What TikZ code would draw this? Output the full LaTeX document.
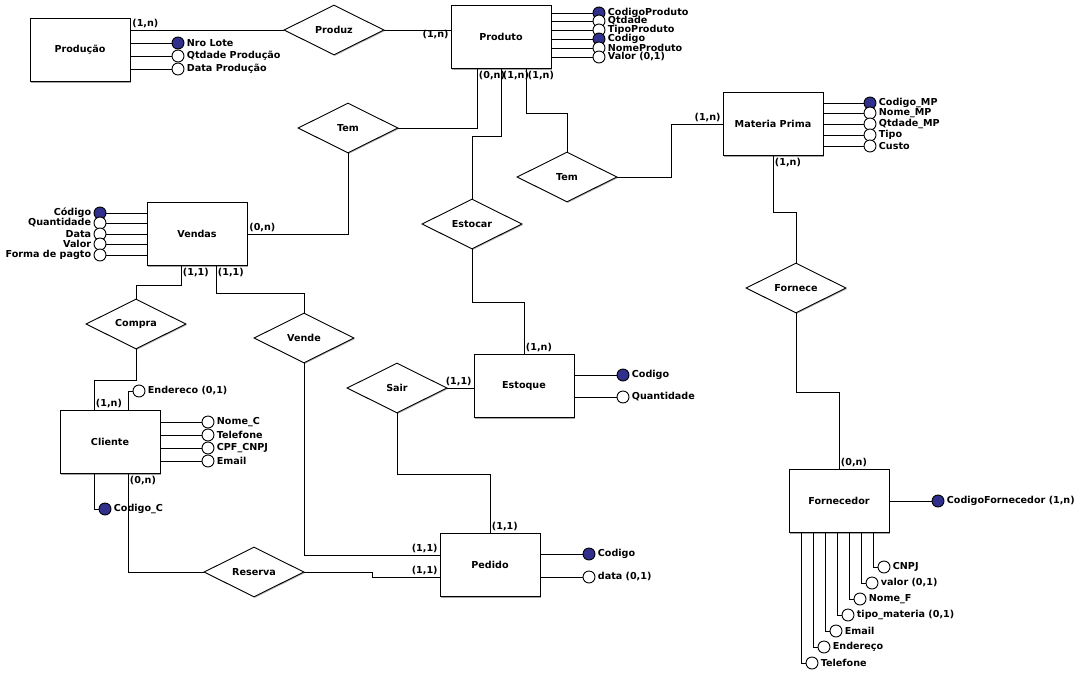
\documentclass[tikz,border=0pt]{standalone}
\usepackage{fontspec}
\setmainfont{DejaVu Sans}
\usepackage{tikz}
\usetikzlibrary{shapes.geometric,shadows}
\definecolor{keyblue}{RGB}{48,48,140}

\tikzset{
  entity/.style={draw, fill=white, minimum width=100pt, minimum height=63pt,
    drop shadow={shadow xshift=1.3pt, shadow yshift=-1.3pt, fill=black!35, opacity=1}},
  relation/.style={diamond, draw, fill=white, aspect=2, inner sep=0pt,
    minimum width=100pt, minimum height=50pt,
    drop shadow={shadow xshift=1pt, shadow yshift=-1pt, fill=black!30, opacity=1}},
  attr/.style={circle, draw, fill=white, minimum size=12pt, inner sep=0pt},
  attrtext/.style={inner sep=2pt},
  card/.style={inner sep=1.5pt},
}

\begin{document}
\begin{tikzpicture}[x=1pt, y=-1pt, line width=0.9pt,
  every node/.style={font=\fontsize{9.6}{10}\selectfont\bfseries}]
  \useasboundingbox (0,0) rectangle (1090,678);

  % Entities
  \node[entity] (producao)   at (80,50)   {Produção};
  \node[entity] (produto)    at (501,37)  {Produto};
  \node[entity] (materia)    at (773,124) {Materia Prima};
  \node[entity] (vendas)     at (197,234) {Vendas};
  \node[entity] (cliente)    at (110,442) {Cliente};
  \node[entity] (estoque)    at (524,386) {Estoque};
  \node[entity] (pedido)     at (490,565) {Pedido};
  \node[entity] (fornecedor) at (839,501) {Fornecedor};

  % Relationships
  \node[relation] (produz)  at (334,30)  {Produz};
  \node[relation] (temA)    at (348,128) {Tem};
  \node[relation] (temB)    at (567,177) {Tem};
  \node[relation] (estocar) at (472,224) {Estocar};
  \node[relation] (compra)  at (136,324) {Compra};
  \node[relation] (vende)   at (304,338) {Vende};
  \node[relation] (sair)    at (397,388) {Sair};
  \node[relation] (reserva) at (254,572) {Reserva};
  \node[relation] (fornece) at (796,288) {Fornece};

  % Connectors with cardinalities
  \draw (produz.west) -- (produz.west -| producao.east) node[card, anchor=south west] {(1,n)};
  \draw (produz.east) -- (produz.east -| produto.west) node[card, anchor=north east, yshift=2pt] {(1,n)};
  \draw (temA.south) |- (vendas.east) node[card, anchor=south west] {(0,n)};
  \draw (temA.east) -| ([xshift=-24pt]produto.south) node[card, anchor=north west] {(0,n)};
  \draw (estocar.north) |- ([yshift=-67pt]produto.south) -- (produto.south) node[card, anchor=north west] {(1,n)};
  \draw (temB.north) |- ([xshift=25pt, yshift=-44pt]produto.south) -- ([xshift=25pt]produto.south)
    node[card, anchor=north west] {(1,n)};
  \draw (estocar.south) |- ([yshift=52pt]estoque.north) -- (estoque.north) node[card, anchor=south west] {(1,n)};
  \draw (temB.east) -- ++(54,0) |- (materia.west) node[card, anchor=south east] {(1,n)};
  \draw (materia.south) node[card, anchor=north west] {(1,n)} -- ++(0,56) -| (fornece.north);
  \draw (fornece.south) -- ++(0,79) -| (fornecedor.north) node[card, anchor=south west] {(0,n)};
  \draw ([xshift=-16pt]vendas.south) node[card, anchor=north west] {(1,1)} -- ++(0,19) -| (compra.north);
  \draw ([xshift=19pt]vendas.south) node[card, anchor=north west] {(1,1)} -- ++(0,27) -| (vende.north);
  \draw (compra.south) -- ++(0,31) -| ([xshift=-16pt]cliente.north) node[card, anchor=south west] {(1,n)};
  \draw ([xshift=18pt]cliente.south) node[card, anchor=north west] {(0,n)} |- (reserva.west);
  \draw (reserva.east) -- ++(68,0) |- ([yshift=-12pt]pedido.west) node[card, anchor=south east] {(1,1)};
  \draw (vende.south) |- ([yshift=10pt]pedido.west) node[card, anchor=south east] {(1,1)};
  \draw (sair.east) -- (sair.east -| estoque.west) node[card, anchor=south east] {(1,1)};
  \draw (sair.south) -- ++(0,61) -| (pedido.north) node[card, anchor=south west] {(1,1)};

  % Attributes
  \foreach \a/\y/\f/\txt in {nroLote/43/keyblue/Nro Lote, qtdProducao/56/white/Qtdade Produção,
      dataProducao/69/white/Data Produção}{
    \node[attr, fill=\f, label={[attrtext]right:\txt}] (\a) at (178,\y) {};
    \draw (\a.west) -- (\a.west -| producao.east);
  }
  \foreach \a/\y/\f/\txt in {codProduto/13/keyblue/CodigoProduto, qtdade/21/white/Qtdade,
      tipoProduto/30/white/TipoProduto, codigo/39/keyblue/Codigo, nomeProduto/48/white/NomeProduto,
      valor/57/white/{Valor (0,1)}}{
    \node[attr, fill=\f, label={[attrtext]right:\txt}] (\a) at (599,\y) {};
    \draw (\a.west) -- (\a.west -| produto.east);
  }
  \foreach \a/\y/\f/\txt in {codMP/103/keyblue/Codigo\_MP, nomeMP/113/white/Nome\_MP,
      qtdMP/124/white/Qtdade\_MP, tipoMP/135/white/Tipo, custoMP/146/white/Custo}{
    \node[attr, fill=\f, label={[attrtext]right:\txt}] (\a) at (870,\y) {};
    \draw (\a.west) -- (\a.west -| materia.east);
  }
  \foreach \a/\y/\f/\txt in {codVenda/213/keyblue/Código, qtdVenda/223/white/Quantidade,
      dataVenda/234/white/Data, valorVenda/244/white/Valor, formaPagto/255/white/Forma de pagto}{
    \node[attr, fill=\f, label={[attrtext]left:\txt}] (\a) at (100,\y) {};
    \draw (\a.east) -- (\a.east -| vendas.west);
  }
  \foreach \a/\y/\txt in {nomeC/422/Nome\_C, telefoneC/435/Telefone, cpfCnpj/448/CPF\_CNPJ, emailC/461/Email}{
    \node[attr, label={[attrtext]right:\txt}] (\a) at (208,\y) {};
    \draw (\a.west) -- (\a.west -| cliente.east);
  }
  \node[attr, label={[attrtext]right:Endereco (0,1)}] (enderecoC) at (139,391) {};
  \draw ([xshift=18pt]cliente.north) |- (enderecoC.west);
  \node[attr, fill=keyblue, label={[attrtext]right:Codigo\_C}] (codigoC) at (105,509) {};
  \draw ([xshift=-16pt]cliente.south) |- (codigoC.west);

  \foreach \a/\y/\f/\txt in {codEstoque/375/keyblue/Codigo, qtdEstoque/397/white/Quantidade}{
    \node[attr, fill=\f, label={[attrtext]right:\txt}] (\a) at (623,\y) {};
    \draw (\a.west) -- (\a.west -| estoque.east);
  }
  \foreach \a/\y/\f/\txt in {codPedido/554/keyblue/Codigo, dataPedido/577/white/{data (0,1)}}{
    \node[attr, fill=\f, label={[attrtext]right:\txt}] (\a) at (589,\y) {};
    \draw (\a.west) -- (\a.west -| pedido.east);
  }

  \node[attr, fill=keyblue, label={[attrtext]right:CodigoFornecedor (1,n)}] (codForn) at (938,501) {};
  \draw (codForn.west) -- (codForn.west -| fornecedor.east);
  \foreach \a/\dx/\y/\txt in {cnpj/34/567/CNPJ, valorF/22/583/{valor (0,1)}, nomeF/10/599/Nome\_F,
      tipoMateria/-2/615/{tipo\_materia (0,1)}, emailF/-14/631/Email, enderecoF/-26/647/Endereço,
      telefoneF/-38/663/Telefone}{
    \node[attr, label={[attrtext]right:\txt}] (\a) at (850+\dx,\y) {};
    \draw ([xshift=\dx pt]fornecedor.south) |- (\a.west);
  }
\end{tikzpicture}
\end{document}
